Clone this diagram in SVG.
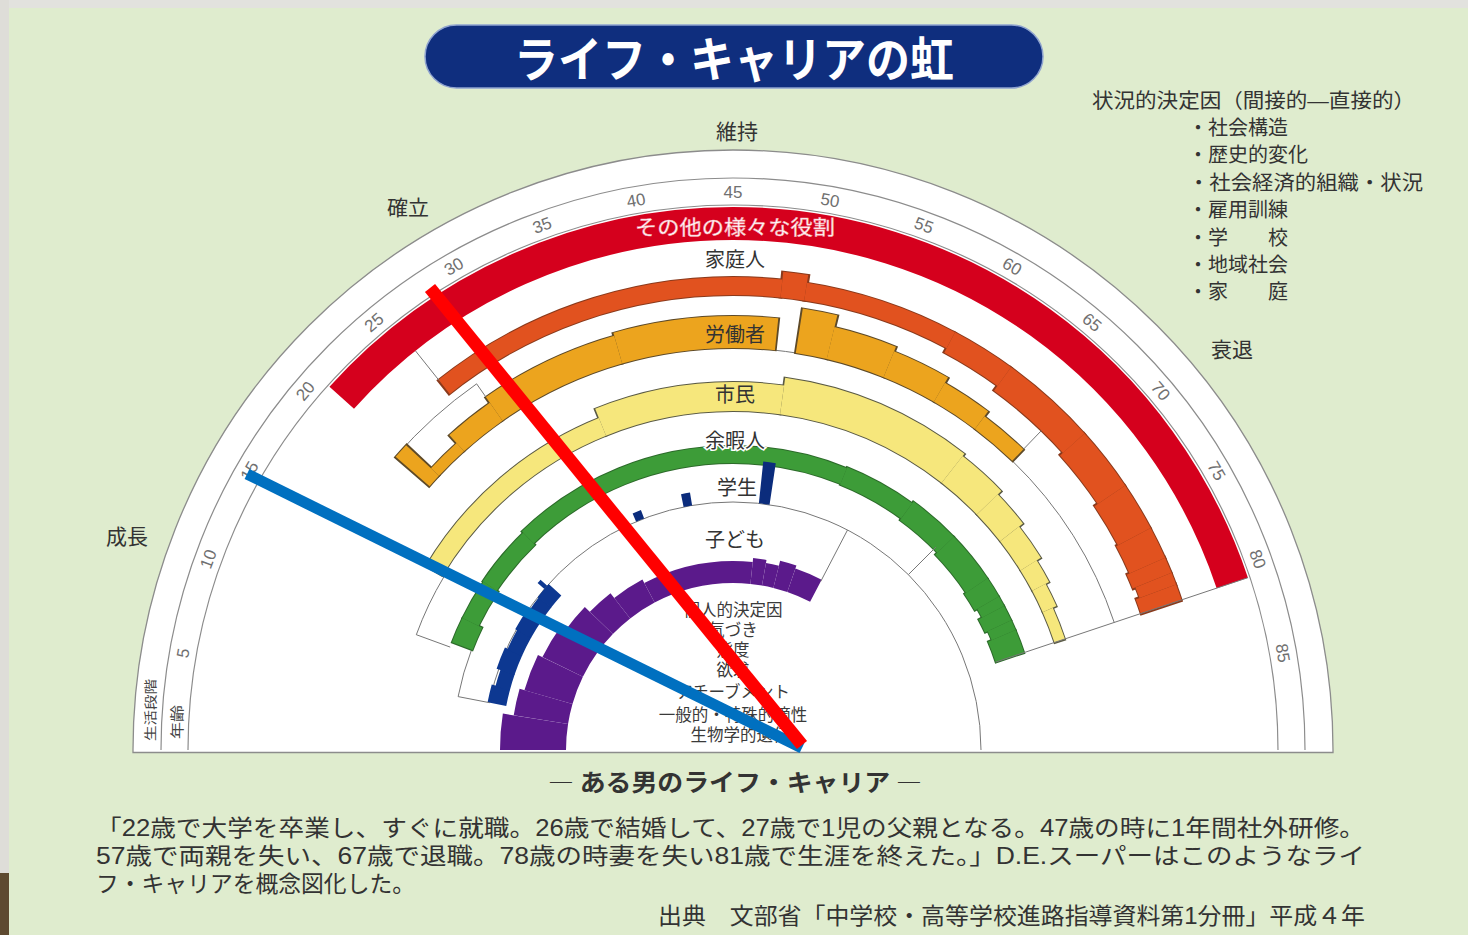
<svg xmlns="http://www.w3.org/2000/svg" width="1468" height="935" viewBox="0 0 1468 935">
<defs>
<style>
.jp{font-family:"Noto Sans CJK JP","Noto Sans CJK SC",sans-serif}
.lbl{font-family:"Noto Sans CJK JP",sans-serif;font-size:20px;fill:#333;text-anchor:middle}
.stage{font-family:"Noto Sans CJK JP",sans-serif;font-size:21px;fill:#333;text-anchor:middle}
.fac{font-family:"Liberation Sans","Noto Sans CJK JP",sans-serif;font-size:20px;fill:#333}
.ctr{font-family:"Liberation Sans","Noto Sans CJK JP",sans-serif;font-size:16.5px;fill:#3a3a3a;text-anchor:middle}
.age{font-family:"Liberation Sans",Arial,sans-serif;font-size:17px;fill:#707070;text-anchor:middle;dominant-baseline:central}
.para{font-family:"Liberation Sans","Noto Sans CJK JP",sans-serif;font-size:23px;fill:#333}
#bands circle{fill:none}
.s circle{stroke:#8c8c8c;stroke-width:1.2}
.z circle{stroke:#777;stroke-width:1}
.zl{stroke:#777;stroke-width:1}
.red{stroke:#d5001d}
.org{stroke:#e1521f}
.orgo{stroke:#8a3a1c}
.gld{stroke:#eca41e}
.gldo{stroke:#5e4a28}
.yel{stroke:#f6e77c}
.yelo{stroke:#5a5a44}
.grn{stroke:#3d9c38}
.grno{stroke:#2c6a2a}
.blu{stroke:#0d3891}
.nav{stroke:#0b2c7c}
.pur{stroke:#5b1a8b}
</style>
</defs>

<rect width="1468" height="935" fill="#dfecce"/>
<rect width="1468" height="8" fill="#e2e2de"/>
<rect width="9" height="935" fill="#deddd8"/>
<rect y="873" width="9" height="62" fill="#5e4a30"/>

<g id="title">
<rect x="425" y="25" width="618" height="63" rx="31.5" fill="#0f2e7e" stroke="#8fa3cf" stroke-width="1.5"/>
<text x="734" y="77" class="jp" font-size="48" font-weight="700" fill="#fff" text-anchor="middle" textLength="440" lengthAdjust="spacingAndGlyphs">ライフ・キャリアの虹</text>
</g>

<g id="factors">
<text x="1092" y="108" class="fac" textLength="323" lengthAdjust="spacingAndGlyphs">状況的決定因（間接的―直接的）</text>
<text x="1188" y="135" class="fac">・社会構造</text>
<text x="1188" y="162" class="fac">・歴史的変化</text>
<text x="1188" y="190" class="fac" textLength="235" lengthAdjust="spacingAndGlyphs">・社会経済的組織・状況</text>
<text x="1188" y="217" class="fac">・雇用訓練</text>
<text x="1188" y="245" class="fac">・学　　校</text>
<text x="1188" y="272" class="fac">・地域社会</text>
<text x="1188" y="299" class="fac">・家　　庭</text>
</g>

<g id="stages">
<text x="127" y="544" class="stage">成長</text>
<text x="408" y="215" class="stage">確立</text>
<text x="737" y="139" class="stage">維持</text>
<text x="1232" y="357" class="stage">衰退</text>
</g>

<g id="chart">
<path d="M133 750 A600 600 0 0 1 1333 750 L1333 752.5 L133 752.5 Z" fill="#fff" stroke="#8c8c8c" stroke-width="1.3"/>
<g id="bands" transform="translate(733 750) rotate(180)">
 <g id="frame-arcs" class="s">
  <circle r="572" pathLength="360" stroke-dasharray="180 400"/>
  <circle r="545" pathLength="360" stroke-dasharray="180 400"/>
 </g>
 <g id="zone-outlines" class="z">
  <circle r="248" pathLength="360" stroke-dasharray="169 400" stroke-dashoffset="-11"/>
  <circle r="280" pathLength="360" stroke-dasharray="10 400" stroke-dashoffset="-11"/>
  <circle r="337" pathLength="360" stroke-dasharray="11 400" stroke-dashoffset="-20"/>
  <circle r="447" pathLength="360" stroke-dasharray="14 400" stroke-dashoffset="-41"/>
  <circle r="402" pathLength="360" stroke-dasharray="3 400" stroke-dashoffset="-96"/>
  <circle r="402" pathLength="360" stroke-dasharray="27.5 400" stroke-dashoffset="-134"/>
 </g>
 <g id="role-other">
  <circle class="red" r="526.5" stroke-width="33" pathLength="360" stroke-dasharray="119.5 400" stroke-dashoffset="-42"/>
 </g>
 <g id="role-homemaker">
  <circle class="orgo" r="464" stroke-width="20" pathLength="360" stroke-dasharray="45 400" stroke-dashoffset="-51.25"/>
  <circle class="orgo" r="468" stroke-width="28" pathLength="360" stroke-dasharray="3.5 400" stroke-dashoffset="-95.75"/>
  <circle class="orgo" r="464" stroke-width="20" pathLength="360" stroke-dasharray="19.5 400" stroke-dashoffset="-98.75"/>
  <circle class="orgo" r="461.5" stroke-width="25" pathLength="360" stroke-dasharray="8.5 400" stroke-dashoffset="-117.75"/>
  <circle class="orgo" r="458.5" stroke-width="31" pathLength="360" stroke-dasharray="12.5 400" stroke-dashoffset="-125.75"/>
  <circle class="orgo" r="456.5" stroke-width="35" pathLength="360" stroke-dasharray="8.5 400" stroke-dashoffset="-137.75"/>
  <circle class="orgo" r="454.5" stroke-width="39" pathLength="360" stroke-dasharray="6.5 400" stroke-dashoffset="-145.75"/>
  <circle class="orgo" r="453.5" stroke-width="41" pathLength="360" stroke-dasharray="4.5 400" stroke-dashoffset="-151.75"/>
  <circle class="orgo" r="452" stroke-width="44" pathLength="360" stroke-dasharray="2.5 400" stroke-dashoffset="-155.75"/>
  <circle class="orgo" r="453.5" stroke-width="41" pathLength="360" stroke-dasharray="2 400" stroke-dashoffset="-157.75"/>
  <circle class="orgo" r="451.5" stroke-width="45" pathLength="360" stroke-dasharray="2.5 400" stroke-dashoffset="-159.25"/>
  <circle class="org" r="464" stroke-width="18" pathLength="360" stroke-dasharray="44.5 400" stroke-dashoffset="-51.5"/>
  <circle class="org" r="468" stroke-width="26" pathLength="360" stroke-dasharray="3 400" stroke-dashoffset="-96"/>
  <circle class="org" r="464" stroke-width="18" pathLength="360" stroke-dasharray="19 400" stroke-dashoffset="-99"/>
  <circle class="org" r="461.5" stroke-width="23" pathLength="360" stroke-dasharray="8 400" stroke-dashoffset="-118"/>
  <circle class="org" r="458.5" stroke-width="29" pathLength="360" stroke-dasharray="12 400" stroke-dashoffset="-126"/>
  <circle class="org" r="456.5" stroke-width="33" pathLength="360" stroke-dasharray="8 400" stroke-dashoffset="-138"/>
  <circle class="org" r="454.5" stroke-width="37" pathLength="360" stroke-dasharray="6 400" stroke-dashoffset="-146"/>
  <circle class="org" r="453.5" stroke-width="39" pathLength="360" stroke-dasharray="4 400" stroke-dashoffset="-152"/>
  <circle class="org" r="452" stroke-width="42" pathLength="360" stroke-dasharray="2 400" stroke-dashoffset="-156"/>
  <circle class="org" r="453.5" stroke-width="39" pathLength="360" stroke-dasharray="1.5 400" stroke-dashoffset="-158"/>
  <circle class="org" r="451.5" stroke-width="43" pathLength="360" stroke-dasharray="2 400" stroke-dashoffset="-159.5"/>
 </g>
 <g id="role-worker">
  <circle class="gldo" r="424.5" stroke-width="47" pathLength="360" stroke-dasharray="2.5 400" stroke-dashoffset="-40.75"/>
  <circle class="gldo" r="407.5" stroke-width="13" pathLength="360" stroke-dasharray="5.5 400" stroke-dashoffset="-42.75"/>
  <circle class="gldo" r="413" stroke-width="24" pathLength="360" stroke-dasharray="7.5 400" stroke-dashoffset="-47.75"/>
  <circle class="gldo" r="416.5" stroke-width="31" pathLength="360" stroke-dasharray="19.5 400" stroke-dashoffset="-54.75"/>
  <circle class="gldo" r="418" stroke-width="34" pathLength="360" stroke-dasharray="22.5 400" stroke-dashoffset="-73.75"/>
  <circle class="gldo" r="424.5" stroke-width="47" pathLength="360" stroke-dasharray="5 400" stroke-dashoffset="-98.75"/>
  <circle class="gldo" r="418.5" stroke-width="35" pathLength="360" stroke-dasharray="9 400" stroke-dashoffset="-103.25"/>
  <circle class="gldo" r="416" stroke-width="30" pathLength="360" stroke-dasharray="8.5 400" stroke-dashoffset="-111.75"/>
  <circle class="gldo" r="413" stroke-width="24" pathLength="360" stroke-dasharray="7.5 400" stroke-dashoffset="-119.75"/>
  <circle class="gldo" r="410" stroke-width="18" pathLength="360" stroke-dasharray="7.5 400" stroke-dashoffset="-126.75"/>
  <circle class="gld" r="424.5" stroke-width="45" pathLength="360" stroke-dasharray="2 400" stroke-dashoffset="-41"/>
  <circle class="gld" r="407.5" stroke-width="11" pathLength="360" stroke-dasharray="5 400" stroke-dashoffset="-43"/>
  <circle class="gld" r="413" stroke-width="22" pathLength="360" stroke-dasharray="7 400" stroke-dashoffset="-48"/>
  <circle class="gld" r="416.5" stroke-width="29" pathLength="360" stroke-dasharray="19 400" stroke-dashoffset="-55"/>
  <circle class="gld" r="418" stroke-width="32" pathLength="360" stroke-dasharray="22 400" stroke-dashoffset="-74"/>
  <circle class="gld" r="424.5" stroke-width="45" pathLength="360" stroke-dasharray="4.5 400" stroke-dashoffset="-99"/>
  <circle class="gld" r="418.5" stroke-width="33" pathLength="360" stroke-dasharray="8.5 400" stroke-dashoffset="-103.5"/>
  <circle class="gld" r="416" stroke-width="28" pathLength="360" stroke-dasharray="8 400" stroke-dashoffset="-112"/>
  <circle class="gld" r="413" stroke-width="22" pathLength="360" stroke-dasharray="7 400" stroke-dashoffset="-120"/>
  <circle class="gld" r="410" stroke-width="16" pathLength="360" stroke-dasharray="7 400" stroke-dashoffset="-127"/>
 </g>
 <g id="role-citizen">
  <circle class="yelo" r="348.5" stroke-width="21" pathLength="360" stroke-dasharray="37.5 400" stroke-dashoffset="-30.75"/>
  <circle class="yelo" r="353.5" stroke-width="31" pathLength="360" stroke-dasharray="30.5 400" stroke-dashoffset="-67.75"/>
  <circle class="yelo" r="357.5" stroke-width="39" pathLength="360" stroke-dasharray="30.5 400" stroke-dashoffset="-97.75"/>
  <circle class="yelo" r="356" stroke-width="36" pathLength="360" stroke-dasharray="8.5 400" stroke-dashoffset="-127.75"/>
  <circle class="yelo" r="353.5" stroke-width="31" pathLength="360" stroke-dasharray="6.5 400" stroke-dashoffset="-135.75"/>
  <circle class="yelo" r="351" stroke-width="26" pathLength="360" stroke-dasharray="6.5 400" stroke-dashoffset="-141.75"/>
  <circle class="yelo" r="348.5" stroke-width="21" pathLength="360" stroke-dasharray="4.5 400" stroke-dashoffset="-147.75"/>
  <circle class="yelo" r="346.5" stroke-width="17" pathLength="360" stroke-dasharray="4.5 400" stroke-dashoffset="-151.75"/>
  <circle class="yelo" r="344.5" stroke-width="13" pathLength="360" stroke-dasharray="6 400" stroke-dashoffset="-155.75"/>
  <circle class="yel" r="348.5" stroke-width="19" pathLength="360" stroke-dasharray="37 400" stroke-dashoffset="-31"/>
  <circle class="yel" r="353.5" stroke-width="29" pathLength="360" stroke-dasharray="30 400" stroke-dashoffset="-68"/>
  <circle class="yel" r="357.5" stroke-width="37" pathLength="360" stroke-dasharray="30 400" stroke-dashoffset="-98"/>
  <circle class="yel" r="356" stroke-width="34" pathLength="360" stroke-dasharray="8 400" stroke-dashoffset="-128"/>
  <circle class="yel" r="353.5" stroke-width="29" pathLength="360" stroke-dasharray="6 400" stroke-dashoffset="-136"/>
  <circle class="yel" r="351" stroke-width="24" pathLength="360" stroke-dasharray="6 400" stroke-dashoffset="-142"/>
  <circle class="yel" r="348.5" stroke-width="19" pathLength="360" stroke-dasharray="4 400" stroke-dashoffset="-148"/>
  <circle class="yel" r="346.5" stroke-width="15" pathLength="360" stroke-dasharray="4 400" stroke-dashoffset="-152"/>
  <circle class="yel" r="344.5" stroke-width="11" pathLength="360" stroke-dasharray="5.5 400" stroke-dashoffset="-156"/>
 </g>
 <g id="role-leisure">
  <circle class="grno" r="290" stroke-width="24" pathLength="360" stroke-dasharray="5.5 400" stroke-dashoffset="-20.75"/>
  <circle class="grno" r="292" stroke-width="20" pathLength="360" stroke-dasharray="8.5 400" stroke-dashoffset="-25.75"/>
  <circle class="grno" r="293.5" stroke-width="19" pathLength="360" stroke-dasharray="12.5 400" stroke-dashoffset="-33.75"/>
  <circle class="grno" r="295.5" stroke-width="19" pathLength="360" stroke-dasharray="66.5 400" stroke-dashoffset="-45.75"/>
  <circle class="grno" r="295.5" stroke-width="21" pathLength="360" stroke-dasharray="14.5 400" stroke-dashoffset="-111.75"/>
  <circle class="grno" r="295.5" stroke-width="25" pathLength="360" stroke-dasharray="10.5 400" stroke-dashoffset="-125.75"/>
  <circle class="grno" r="294" stroke-width="28" pathLength="360" stroke-dasharray="10.5 400" stroke-dashoffset="-135.75"/>
  <circle class="grno" r="293" stroke-width="30" pathLength="360" stroke-dasharray="4.5 400" stroke-dashoffset="-145.75"/>
  <circle class="grno" r="294.5" stroke-width="27" pathLength="360" stroke-dasharray="2.5 400" stroke-dashoffset="-149.75"/>
  <circle class="grno" r="292.5" stroke-width="31" pathLength="360" stroke-dasharray="3.5 400" stroke-dashoffset="-151.75"/>
  <circle class="grno" r="294" stroke-width="28" pathLength="360" stroke-dasharray="2.5 400" stroke-dashoffset="-154.75"/>
  <circle class="grno" r="292" stroke-width="32" pathLength="360" stroke-dasharray="5 400" stroke-dashoffset="-156.75"/>
  <circle class="grn" r="290" stroke-width="22" pathLength="360" stroke-dasharray="5 400" stroke-dashoffset="-21"/>
  <circle class="grn" r="292" stroke-width="18" pathLength="360" stroke-dasharray="8 400" stroke-dashoffset="-26"/>
  <circle class="grn" r="293.5" stroke-width="17" pathLength="360" stroke-dasharray="12 400" stroke-dashoffset="-34"/>
  <circle class="grn" r="295.5" stroke-width="17" pathLength="360" stroke-dasharray="66 400" stroke-dashoffset="-46"/>
  <circle class="grn" r="295.5" stroke-width="19" pathLength="360" stroke-dasharray="14 400" stroke-dashoffset="-112"/>
  <circle class="grn" r="295.5" stroke-width="23" pathLength="360" stroke-dasharray="10 400" stroke-dashoffset="-126"/>
  <circle class="grn" r="294" stroke-width="26" pathLength="360" stroke-dasharray="10 400" stroke-dashoffset="-136"/>
  <circle class="grn" r="293" stroke-width="28" pathLength="360" stroke-dasharray="4 400" stroke-dashoffset="-146"/>
  <circle class="grn" r="294.5" stroke-width="25" pathLength="360" stroke-dasharray="2 400" stroke-dashoffset="-150"/>
  <circle class="grn" r="292.5" stroke-width="29" pathLength="360" stroke-dasharray="3 400" stroke-dashoffset="-152"/>
  <circle class="grn" r="294" stroke-width="26" pathLength="360" stroke-dasharray="2 400" stroke-dashoffset="-155"/>
  <circle class="grn" r="292" stroke-width="30" pathLength="360" stroke-dasharray="4.5 400" stroke-dashoffset="-157"/>
 </g>
 <g id="role-student">
  <circle class="blu" r="240.5" stroke-width="19" pathLength="360" stroke-dasharray="4.2 400" stroke-dashoffset="-11"/>
  <circle class="blu" r="238.5" stroke-width="15" pathLength="360" stroke-dasharray="4.2 400" stroke-dashoffset="-15"/>
  <circle class="blu" r="240.5" stroke-width="19" pathLength="360" stroke-dasharray="5.2 400" stroke-dashoffset="-19"/>
  <circle class="blu" r="239" stroke-width="16" pathLength="360" stroke-dasharray="5.2 400" stroke-dashoffset="-24"/>
  <circle class="blu" r="240" stroke-width="18" pathLength="360" stroke-dasharray="5.2 400" stroke-dashoffset="-29"/>
  <circle class="blu" r="239" stroke-width="16" pathLength="360" stroke-dasharray="4.2 400" stroke-dashoffset="-34"/>
  <circle class="blu" r="239.5" stroke-width="17" pathLength="360" stroke-dasharray="4 400" stroke-dashoffset="-38"/>
  <circle class="blu" r="252.5" stroke-width="9" pathLength="360" stroke-dasharray="1 400" stroke-dashoffset="-40.5"/>
  <circle class="nav" r="252.5" stroke-width="9" pathLength="360" stroke-dasharray="2 400" stroke-dashoffset="-67"/>
  <circle class="nav" r="254.5" stroke-width="13" pathLength="360" stroke-dasharray="2 400" stroke-dashoffset="-78.5"/>
  <circle class="nav" r="269" stroke-width="42" pathLength="360" stroke-dasharray="2.5 400" stroke-dashoffset="-96"/>
 </g>
 <g id="role-child">
  <circle class="pur" r="200" stroke-width="66" pathLength="360" stroke-dasharray="9 400" stroke-dashoffset="0"/>
  <circle class="pur" r="194.5" stroke-width="55" pathLength="360" stroke-dasharray="7 400" stroke-dashoffset="-9"/>
  <circle class="pur" r="192" stroke-width="50" pathLength="360" stroke-dasharray="10 400" stroke-dashoffset="-16"/>
  <circle class="pur" r="189.5" stroke-width="45" pathLength="360" stroke-dasharray="10 400" stroke-dashoffset="-26"/>
  <circle class="pur" r="186.5" stroke-width="39" pathLength="360" stroke-dasharray="8 400" stroke-dashoffset="-36"/>
  <circle class="pur" r="183" stroke-width="32" pathLength="360" stroke-dasharray="8 400" stroke-dashoffset="-44"/>
  <circle class="pur" r="180" stroke-width="26" pathLength="360" stroke-dasharray="10 400" stroke-dashoffset="-52"/>
  <circle class="pur" r="178" stroke-width="22" pathLength="360" stroke-dasharray="34 400" stroke-dashoffset="-62"/>
  <circle class="pur" r="180" stroke-width="26" pathLength="360" stroke-dasharray="4 400" stroke-dashoffset="-96"/>
  <circle class="pur" r="178.5" stroke-width="23" pathLength="360" stroke-dasharray="4 400" stroke-dashoffset="-100"/>
  <circle class="pur" r="181" stroke-width="28" pathLength="360" stroke-dasharray="5 400" stroke-dashoffset="-104"/>
  <circle class="pur" r="179.5" stroke-width="25" pathLength="360" stroke-dasharray="8.5 400" stroke-dashoffset="-109"/>
 </g>
</g>
<g id="radial-lines" class="zl">
 <line x1="489.6" y1="702.7" x2="458.1" y2="696.6"/>
 <line x1="450.2" y1="647.1" x2="416.3" y2="634.7"/>
 <line x1="439.2" y1="380.6" x2="415.5" y2="350.9"/>
 <line x1="485.8" y1="396.9" x2="476.6" y2="383.8"/>
 <line x1="820.7" y1="581.5" x2="847.5" y2="530.0"/>
 <line x1="1023.4" y1="449.3" x2="1041.4" y2="430.6"/>
 <line x1="908.4" y1="574.6" x2="935.9" y2="547.1"/>
 <line x1="995.7" y1="662.1" x2="1247.9" y2="577.7"/>
</g>
<g id="ages" class="age">
 <text transform="translate(183.5 653.1) rotate(-80)">5</text>
 <text transform="translate(208.6 559.2) rotate(-70)">10</text>
 <text transform="translate(249.8 471) rotate(-60)">15</text>
 <text transform="translate(305.6 391.3) rotate(-50)">20</text>
 <text transform="translate(374.3 322.6) rotate(-40)">25</text>
 <text transform="translate(454 266.8) rotate(-30)">30</text>
 <text transform="translate(542.2 225.6) rotate(-20)">35</text>
 <text transform="translate(636.1 200.5) rotate(-10)">40</text>
 <text transform="translate(733 192)">45</text>
 <text transform="translate(829.9 200.5) rotate(10)">50</text>
 <text transform="translate(923.8 225.6) rotate(20)">55</text>
 <text transform="translate(1012 266.8) rotate(30)">60</text>
 <text transform="translate(1091.7 322.6) rotate(40)">65</text>
 <text transform="translate(1160.4 391.3) rotate(50)">70</text>
 <text transform="translate(1216.2 471) rotate(60)">75</text>
 <text transform="translate(1257.4 559.2) rotate(70)">80</text>
 <text transform="translate(1282.5 653.1) rotate(80)">85</text>
</g>
<g id="column-labels" class="jp" fill="#444" text-anchor="middle">
 <text transform="translate(155 710) rotate(-90)" font-size="13" textLength="62" lengthAdjust="spacingAndGlyphs">生活段階</text>
 <text transform="translate(182 722) rotate(-90)" font-size="14" textLength="34" lengthAdjust="spacingAndGlyphs">年齢</text>
</g>
<g id="role-labels">
 <text x="735" y="235" class="jp" font-size="20" fill="#fff" stroke="#f3a2aa" stroke-width="0.5" text-anchor="middle" textLength="200" lengthAdjust="spacingAndGlyphs">その他の様々な役割</text>
 <text x="735" y="267" class="lbl">家庭人</text>
 <text x="735" y="342" class="lbl" font-size="21">労働者</text>
 <text x="735" y="402" class="lbl">市民</text>
 <text x="735" y="448" class="lbl" stroke="#fff" stroke-width="3" paint-order="stroke">余暇人</text>
 <text x="737" y="495" class="lbl">学生</text>
 <text x="735" y="547" class="lbl">子ども</text>
</g>
<g id="personal-factors" class="ctr">
 <text x="733" y="616">個人的決定因</text>
 <text x="733" y="636">気づき</text>
 <text x="733" y="656">態度</text>
 <text x="733" y="676">欲求</text>
 <text x="733" y="698">アチーブメント</text>
 <text x="733" y="721">一般的・特殊的適性</text>
 <text x="740" y="741">生物学的遺伝</text>
</g>
</g>

<g id="connectors">
 <line x1="247" y1="474" x2="802" y2="748" stroke="#0070c0" stroke-width="11"/>
 <line x1="430" y1="288" x2="802" y2="745" stroke="#ff0000" stroke-width="13"/>
</g>

<g id="caption">
 <text x="735" y="791" class="jp" font-size="24" font-weight="700" fill="#333" text-anchor="middle" textLength="374" lengthAdjust="spacingAndGlyphs">― ある男のライフ・キャリア ―</text>
 <text x="96" y="836" class="para" textLength="1269" lengthAdjust="spacingAndGlyphs">「22歳で大学を卒業し、すぐに就職。26歳で結婚して、27歳で1児の父親となる。47歳の時に1年間社外研修。</text>
 <text x="96" y="864" class="para" textLength="1269" lengthAdjust="spacingAndGlyphs">57歳で両親を失い、67歳で退職。78歳の時妻を失い81歳で生涯を終えた。」D.E.スーパーはこのようなライ</text>
 <text x="96" y="892" class="para" textLength="319" lengthAdjust="spacingAndGlyphs">フ・キャリアを概念図化した。</text>
 <text x="658" y="924" class="para" font-size="22" textLength="707" lengthAdjust="spacingAndGlyphs">出典　文部省「中学校・高等学校進路指導資料第1分冊」平成４年</text>
</g>
</svg>
